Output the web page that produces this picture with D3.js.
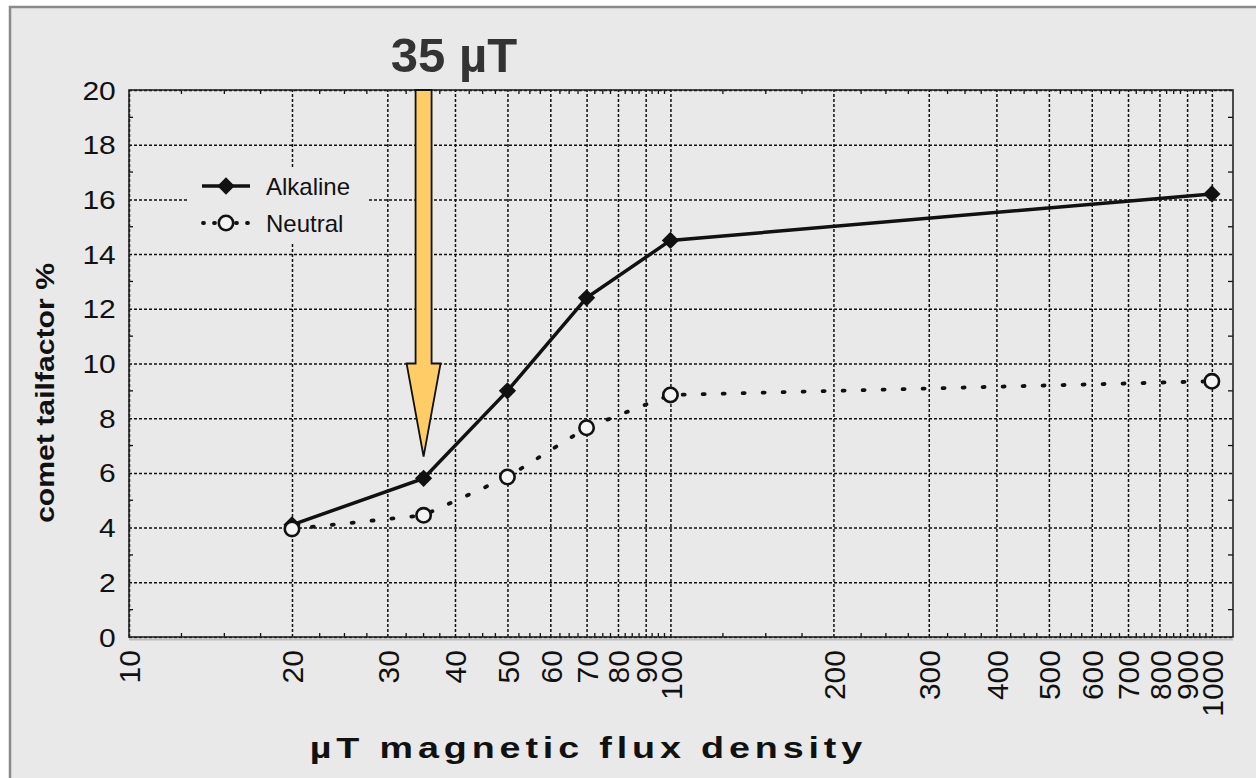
<!DOCTYPE html>
<html>
<head>
<meta charset="utf-8">
<script src="https://cdn.jsdelivr.net/npm/d3@7"></script>
<style>
  body { margin: 0; background: #fff; }
  text { font-family: "Liberation Sans", Arial, sans-serif; }
</style>
</head>
<body>
<svg width="1256" height="778"></svg>
<script>
const svg = d3.select('svg');

// data
const fluxValues = [20, 35, 50, 70, 100, 1000];
const alkaline = [4.1, 5.8, 9.0, 12.4, 14.5, 16.2];
const neutral = [3.95, 4.45, 5.85, 7.65, 8.85, 9.35];
const xTickValues = [10, 20, 30, 40, 50, 60, 70, 80, 90, 100, 200, 300, 400, 500, 600, 700, 800, 900, 1000];
const yTickValues = [0, 2, 4, 6, 8, 10, 12, 14, 16, 18, 20];
const seriesNames = ['Alkaline', 'Neutral'];
const markedFlux = 35;

const margin = {left: 129, right: 23, top: 90, bottom: 141};
const width = 1256, height = 778;
const innerWidth = width - (margin.left + margin.right);
const innerHeight = height - (margin.top + margin.bottom);

// outer panel
svg.append('rect')
    .attr('x', 10).attr('y', 7)
    .attr('width', 1300).attr('height', 800)
    .attr('fill', '#e9e9e9')
    .attr('stroke', '#8a8a8a').attr('stroke-width', 2.5);

const xScale = d3.scaleLog()
    .domain([10, 1094])
    .range([0, innerWidth]);

const yScale = d3.scaleLinear()
    .domain([0, 20])
    .range([innerHeight, 0]);

const g = svg.append('g')
    .attr('transform', `translate(${margin.left},${margin.top})`);

// minor ticks: quarters between x majors, odd values on y
const minorX = [];
for (let i = 0; i < xTickValues.length - 1; i++) {
    const a = xTickValues[i], b = xTickValues[i + 1];
    for (let k = 1; k < 4; k++) minorX.push(a + (b - a) * k / 4);
}
const minorY = d3.range(1, 20, 2);

const minor = g.append('g').attr('stroke', '#111').attr('stroke-width', 1.3);
minorX.forEach(v => {
    minor.append('line').attr('x1', xScale(v)).attr('x2', xScale(v))
        .attr('y1', innerHeight).attr('y2', innerHeight - 4);
    minor.append('line').attr('x1', xScale(v)).attr('x2', xScale(v))
        .attr('y1', 0).attr('y2', 4);
});
minorY.forEach(v => {
    minor.append('line').attr('x1', 0).attr('x2', 4)
        .attr('y1', yScale(v)).attr('y2', yScale(v));
    minor.append('line').attr('x1', innerWidth).attr('x2', innerWidth - 5)
        .attr('y1', yScale(v)).attr('y2', yScale(v));
});

// grid + axes
const xAxis = g.append('g')
    .attr('transform', `translate(0,${innerHeight})`)
    .call(d3.axisBottom(xScale).tickValues(xTickValues).tickFormat(d3.format('d'))
        .tickSize(-innerHeight).tickSizeOuter(0));
xAxis.select('.domain').remove();
xAxis.selectAll('line')
    .attr('stroke', '#111').attr('stroke-width', 1.5).attr('stroke-dasharray', '3,2');
xAxis.selectAll('text')
    .attr('transform', 'rotate(-90)')
    .attr('x', -13).attr('y', 0).attr('dy', '0.36em')
    .attr('text-anchor', 'end')
    .attr('font-size', 30).attr('fill', '#111');

const yAxis = g.append('g')
    .call(d3.axisLeft(yScale).tickValues(yTickValues)
        .tickSize(-innerWidth).tickSizeOuter(0));
yAxis.select('.domain').remove();
yAxis.selectAll('line')
    .attr('stroke', '#111').attr('stroke-width', 1.5).attr('stroke-dasharray', '3,2');
yAxis.selectAll('text')
    .attr('x', -11).attr('dy', '0.36em')
    .attr('transform', 'scale(1.2,1)')
    .attr('font-size', 25).attr('fill', '#111');

// plot frame
g.append('line').attr('x1', 0).attr('x2', innerWidth)
    .attr('y1', innerHeight + 2.5).attr('y2', innerHeight + 2.5)
    .attr('stroke', '#bdbdbd').attr('stroke-width', 2);
g.append('rect')
    .attr('width', innerWidth).attr('height', innerHeight)
    .attr('fill', 'none').attr('stroke', '#222').attr('stroke-width', 1.6);

// arrow marking 35 µT
const ax = xScale(markedFlux);
const arrowPts = [
    [ax - 8, 0], [ax + 8, 0], [ax + 8, yScale(10)], [ax + 17, yScale(10)],
    [ax, yScale(6.6)], [ax - 17, yScale(10)], [ax - 8, yScale(10)]
];
g.append('polygon')
    .attr('points', arrowPts.map(p => p.join(',')).join(' '))
    .attr('fill', '#ffcc66').attr('stroke', '#111').attr('stroke-width', 1.8)
    .attr('stroke-linejoin', 'miter');

svg.append('text')
    .attr('x', 454).attr('y', 72)
    .attr('text-anchor', 'middle')
    .attr('font-size', 49).attr('font-weight', 'bold').attr('fill', '#333')
    .text('35 µT');

// series
const lineGen = d3.line()
    .x(d => xScale(d[0]))
    .y(d => yScale(d[1]));

const neutralData = fluxValues.map((f, i) => [f, neutral[i]]);
const alkalineData = fluxValues.map((f, i) => [f, alkaline[i]]);

g.append('path').datum(neutralData)
    .attr('d', lineGen).attr('fill', 'none')
    .attr('stroke', '#111').attr('stroke-width', 3.8)
    .attr('stroke-dasharray', '2,18').attr('stroke-linecap', 'round');

g.append('path').datum(alkalineData)
    .attr('d', lineGen).attr('fill', 'none')
    .attr('stroke', '#111').attr('stroke-width', 3.5);

const diamond = d3.symbol().type(d3.symbolDiamond2).size(190);

g.selectAll('.alk').data(alkalineData).enter().append('path')
    .attr('class', 'alk')
    .attr('transform', d => `translate(${xScale(d[0])},${yScale(d[1])})`)
    .attr('d', diamond)
    .attr('fill', '#111');

g.selectAll('.neu').data(neutralData).enter().append('circle')
    .attr('class', 'neu')
    .attr('cx', d => xScale(d[0])).attr('cy', d => yScale(d[1]))
    .attr('r', 7.2)
    .attr('fill', '#f4f4f4').attr('stroke', '#111').attr('stroke-width', 2.6);

// legend
const legend = svg.append('g');
legend.append('rect')
    .attr('x', 188).attr('y', 168).attr('width', 179).attr('height', 76)
    .attr('fill', '#e9e9e9');
seriesNames.forEach((name, i) => {
    const ly = 186 + i * 37;
    const item = legend.append('g');
    if (i === 0) {
        item.append('line').attr('x1', 202).attr('x2', 250)
            .attr('y1', ly).attr('y2', ly)
            .attr('stroke', '#111').attr('stroke-width', 3.5);
        item.append('path')
            .attr('transform', `translate(226,${ly})`)
            .attr('d', diamond).attr('fill', '#111');
    } else {
        item.append('line').attr('x1', 203).attr('x2', 249)
            .attr('y1', ly).attr('y2', ly)
            .attr('stroke', '#111').attr('stroke-width', 3.8)
            .attr('stroke-dasharray', '1,10').attr('stroke-linecap', 'round');
        item.append('circle').attr('cx', 226).attr('cy', ly).attr('r', 7.2)
            .attr('fill', '#f4f4f4').attr('stroke', '#111').attr('stroke-width', 2.6);
    }
    item.append('text')
        .attr('x', 266).attr('y', ly + 9)
        .attr('font-size', 24).attr('fill', '#111')
        .text(name);
});

// axis titles
svg.append('text')
    .attr('transform', 'translate(586,758) scale(1.3,1)')
    .attr('text-anchor', 'middle')
    .attr('font-size', 29).attr('font-weight', 'bold').attr('fill', '#111')
    .attr('textLength', 425).attr('lengthAdjust', 'spacing')
    .text('µT magnetic flux density');

svg.append('text')
    .attr('transform', 'translate(54,393) rotate(-90)')
    .attr('text-anchor', 'middle')
    .attr('font-size', 25).attr('font-weight', 'bold').attr('fill', '#111')
    .attr('textLength', 260).attr('lengthAdjust', 'spacingAndGlyphs')
    .text('comet tailfactor %');
</script>
</body>
</html>
